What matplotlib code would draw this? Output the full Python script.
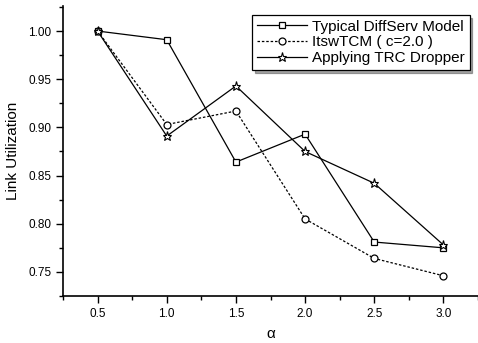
import matplotlib.pyplot as plt
from matplotlib.ticker import MultipleLocator

plt.rcParams['font.family'] = ['Liberation Sans', 'DejaVu Sans']

alpha = [0.5, 1.0, 1.5, 2.0, 2.5, 3.0]
typical = [1.000, 0.991, 0.864, 0.893, 0.781, 0.775]
itswtcm = [1.000, 0.903, 0.917, 0.805, 0.764, 0.746]
trc = [1.000, 0.891, 0.943, 0.875, 0.842, 0.778]

fig = plt.figure(figsize=(4.78, 3.43), dpi=100)
ax = fig.add_axes([63 / 478, 47 / 343, 415 / 478, 290 / 343])

ax.plot(alpha, typical, color='black', lw=0.9, marker='s', ms=4.5,
        mfc='white', mec='black', mew=0.9, label='Typical DiffServ Model')
ax.plot(alpha, itswtcm, color='black', lw=0.9, ls=(0, (2, 1.5)), marker='o', ms=5,
        mfc='white', mec='black', mew=0.9, label='ItswTCM ( c=2.0 )')
ax.plot(alpha, trc, color='black', lw=0.9, marker='*', ms=6.5,
        mfc='white', mec='black', mew=0.8, label='Applying TRC Dropper')

ax.set_xlim(0.25, 3.25)
ax.set_ylim(0.725, 1.026)
ax.xaxis.set_major_locator(MultipleLocator(0.5))
ax.xaxis.set_minor_locator(MultipleLocator(0.25))
ax.yaxis.set_major_locator(MultipleLocator(0.05))
ax.yaxis.set_minor_locator(MultipleLocator(0.025))
ax.xaxis.set_major_formatter(plt.FormatStrFormatter('%.1f'))
ax.yaxis.set_major_formatter(plt.FormatStrFormatter('%.2f'))

for side in ['top', 'right']:
    ax.spines[side].set_visible(False)
for side in ['left', 'bottom']:
    ax.spines[side].set_linewidth(1.2)
ax.tick_params(which='major', direction='out', length=5, width=1, labelsize=8.5)
ax.tick_params(which='minor', direction='out', length=3, width=1)

ax.set_xlabel('α', fontsize=11, labelpad=5)
ax.set_ylabel('Link Utilization', fontsize=11, labelpad=6)

leg = ax.legend(loc='upper left', bbox_to_anchor=((252 - 63) / 415, 1.0 - 9 / 290),
                fontsize=11, handlelength=3.3, labelspacing=0.12,
                fancybox=False, shadow=True, edgecolor='black',
                borderpad=0.3, handletextpad=0.35, borderaxespad=0)
leg.get_frame().set_linewidth(0.9)

fig.savefig('out.png', dpi=100)
